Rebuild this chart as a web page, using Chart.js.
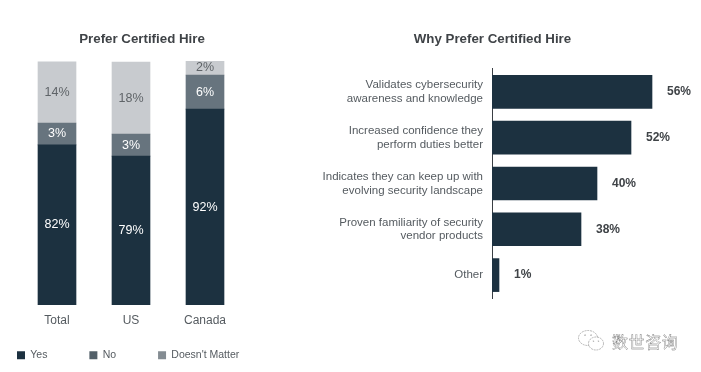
<!DOCTYPE html>
<html>
<head>
<meta charset="utf-8">
<script src="https://cdn.jsdelivr.net/npm/chart.js@4"></script>
<style>
    html, body { margin: 0; background: #fff; overflow: hidden; }
    #page { position: relative; width: 701px; height: 372px; overflow: hidden; }
    canvas { position: absolute; top: 0; }
    #left { left: 0; }
    #right { left: 284px; }
    #mark { position: absolute; left: 612px; top: 331px; font: 16px "Noto Sans CJK SC"; line-height: 21px;
        letter-spacing: 0.6px; color: #fff; -webkit-text-stroke: 0.35px #666; white-space: nowrap; }
    #icon { position: absolute; left: 577px; top: 328px; }
</style>
</head>
<body>
<div id="page">
    <canvas id="left" width="340" height="430"></canvas>
    <canvas id="right" width="417" height="372"></canvas>
    <svg id="icon" width="30" height="26" viewBox="0 0 30 26" fill="#fff" stroke="#888" stroke-width="0.6" stroke-dasharray="2 0.8">
        <ellipse cx="11" cy="10" rx="9.5" ry="7.5"/>
        <ellipse cx="19" cy="15.5" rx="7.5" ry="6.5"/>
        <circle cx="8" cy="7" r="0.6"/><circle cx="14" cy="7" r="0.6"/>
        <circle cx="16.5" cy="13" r="0.5"/><circle cx="21.5" cy="13" r="0.5"/>
    </svg>
    <div id="mark">数世咨询</div>
</div>
<script>
// left chart: the printed labels don't line up with the segment heights in the picture,
// so heights (as share of the column) and printed labels are kept apart
const regions = ["Total", "US", "Canada"];
const yesHeights = [65.6, 61, 80.3];
const noHeights = [9, 9, 13.9];
const dontCareHeights = [25, 29.5, 5.8];
const yesLabels = ["82%", "79%", "92%"];
const noLabels = ["3%", "3%", "6%"];
const dontCareLabels = ["14%", "18%", "2%"];
const legendNames = ["Yes", "No", "Doesn't Matter"];
const legendColors = ["#1c3140", "#536069", "#848c92"];

// right chart: same thing, bar lengths
const reasons = [
    ["Validates cybersecurity", "awareness and knowledge"],
    ["Increased confidence they", "perform duties better"],
    ["Indicates they can keep up with", "evolving security landscape"],
    ["Proven familiarity of security", "vendor products"],
    "Other"
];
const reasonLengths = [56, 48.65, 36.75, 31.15, 2.45];
const reasonLabels = ["56%", "52%", "40%", "38%", "1%"];

const FONT = "'Liberation Sans', Arial, sans-serif";
const TEXT = "#555b60";

// prints dataset.printed on each bar
const barText = {
    id: "barText",
    afterDatasetsDraw(chart) {
        const ctx = chart.ctx;
        chart.data.datasets.forEach((ds, i) => {
            chart.getDatasetMeta(i).data.forEach((bar, j) => {
                ctx.save();
                ctx.font = ds.printedFont;
                ctx.fillStyle = ds.printedColor;
                ctx.textBaseline = "middle";
                if (chart.options.indexAxis === "y") {
                    ctx.textAlign = "left";
                    ctx.fillText(ds.printed[j], bar.x + 15, bar.y);
                } else {
                    ctx.textAlign = "center";
                    ctx.fillText(ds.printed[j], bar.x, (bar.y + bar.base) / 2);
                }
                ctx.restore();
            });
        });
    }
};

// legend padding pads the top and left too, so move the boxes after layout
const placeBlocks = {
    id: "placeBlocks",
    afterLayout(chart) {
        chart.legend.left = -25;
        chart.legend.top = 308;
        chart.titleBlock.left = 0;
        chart.titleBlock.right = 284;
    }
};

function segment(name, values, color, printed, printedColor) {
    return {
        label: name,
        data: values,
        backgroundColor: color,
        barThickness: 38,
        printed: printed,
        printedColor: printedColor,
        printedFont: "12.5px " + FONT
    };
}

function spacerAxis(width, position) {
    return {
        position: position,
        afterFit: scale => { scale.width = width; },
        grid: { display: false, drawTicks: false },
        border: { display: false },
        ticks: { display: false }
    };
}

new Chart(document.getElementById("left"), {
    type: "bar",
    plugins: [barText, placeBlocks],
    data: {
        labels: regions,
        datasets: [
            segment("Yes", yesHeights, "#1c3140", yesLabels, "#ffffff"),
            segment("No", noHeights, "#67747e", noLabels, "#ffffff"),
            segment("Doesn't Matter", dontCareHeights, "#c8cbcf", dontCareLabels, "#5f6468")
        ]
    },
    options: {
        responsive: false,
        animation: false,
        layout: { padding: { left: 0, right: 0, top: 31, bottom: 40 } },
        plugins: {
            tooltip: { enabled: false },
            title: {
                display: true,
                text: "Prefer Certified Hire",
                color: "#3f4347",
                font: { family: FONT, size: 13.3, weight: "bold" },
                padding: { top: 0, bottom: 14 }
            },
            legend: {
                position: "bottom",
                align: "start",
                labels: {
                    boxWidth: 8,
                    boxHeight: 8,
                    padding: 42,
                    color: TEXT,
                    font: { family: FONT, size: 10.5 },
                    generateLabels: () => legendNames.map((name, i) => ({
                        text: name,
                        fillStyle: legendColors[i],
                        strokeStyle: legendColors[i],
                        lineWidth: 0,
                        fontColor: TEXT,
                        datasetIndex: i
                    }))
                }
            }
        },
        scales: {
            x: {
                stacked: true,
                grid: { display: false },
                border: { display: false },
                ticks: { color: TEXT, font: { family: FONT, size: 12 }, padding: 0 }
            },
            y: Object.assign(spacerAxis(20, "left"), { stacked: true, min: 0, max: 100 }),
            spacer: Object.assign(spacerAxis(98, "right"), { type: "linear", axis: "y" })
        }
    }
});

new Chart(document.getElementById("right"), {
    type: "bar",
    plugins: [barText],
    data: {
        labels: reasons,
        datasets: [{
            label: "Why",
            data: reasonLengths,
            backgroundColor: "#1c3140",
            barThickness: 33,
            printed: reasonLabels,
            printedColor: "#3f4347",
            printedFont: "bold 12px " + FONT
        }]
    },
    options: {
        indexAxis: "y",
        responsive: false,
        animation: false,
        layout: { padding: { left: 0, right: 0, top: 31, bottom: 74 } },
        plugins: {
            tooltip: { enabled: false },
            legend: { display: false },
            title: {
                display: true,
                text: "Why Prefer Certified Hire",
                color: "#3f4347",
                font: { family: FONT, size: 13.3, weight: "bold" },
                padding: { top: 0, bottom: 22 }
            }
        },
        scales: {
            x: { display: false, min: 0, max: 73.15 },
            y: {
                afterFit: scale => { scale.width = 208; },
                grid: { display: false, drawTicks: false },
                border: { display: true, color: "#3a3f44", width: 1 },
                ticks: { color: TEXT, font: { family: FONT, size: 11.5 }, padding: 9, autoSkip: false }
            }
        }
    }
});
</script>
</body>
</html>
